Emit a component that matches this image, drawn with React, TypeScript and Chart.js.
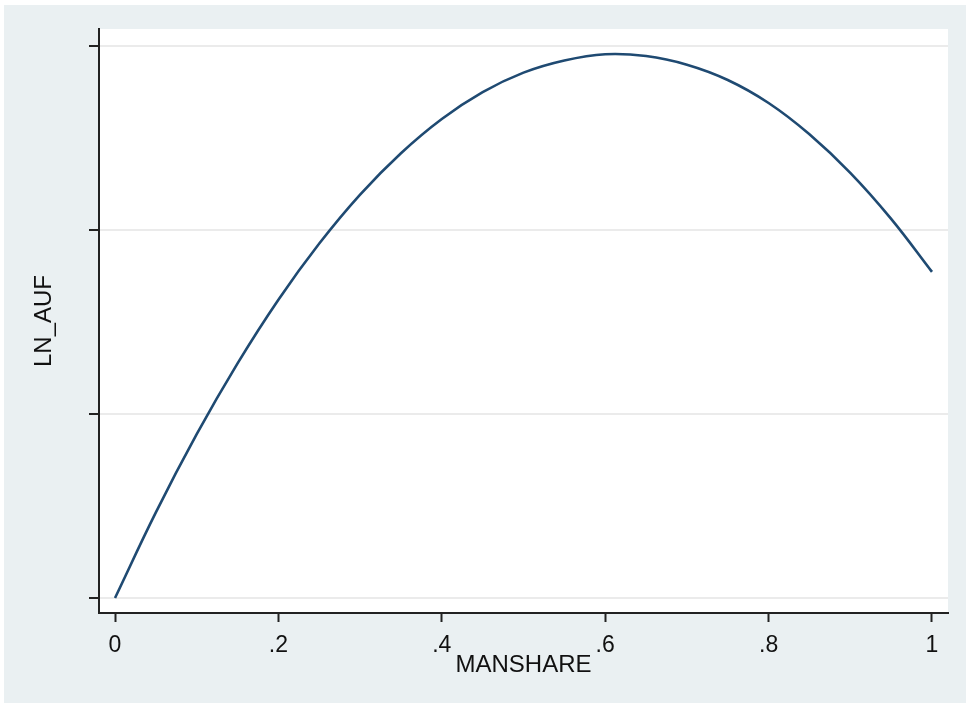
import React, { useEffect, useRef } from "react";
import { Chart, registerables } from "chart.js";

Chart.register(...registerables);

// MANSHARE values (x) and fitted LN_AUF values (y, in grid-step units)
const manshare = [0, 0.05, 0.1, 0.15, 0.2, 0.25, 0.3, 0.35, 0.4, 0.45, 0.5, 0.55, 0.6, 0.65, 0.7, 0.75, 0.8, 0.85, 0.9, 0.95, 1.0];
const lnAuf = [0, 0.465, 0.89, 1.275, 1.621, 1.926, 2.192, 2.417, 2.603, 2.749, 2.855, 2.921, 2.955, 2.945, 2.898, 2.815, 2.69, 2.52, 2.31, 2.06, 1.772];

const xTickValues = [0, 0.2, 0.4, 0.6, 0.8, 1];
const xTickLabels = ["0", ".2", ".4", ".6", ".8", "1"];
const yTickValues = [0, 1, 2, 3];

const FONT = "'Liberation Sans', Arial, Helvetica, sans-serif";

const bgPlugin = {
  id: "stataBg",
  beforeDraw(chart: any) {
    const { ctx, chartArea } = chart;
    ctx.save();
    ctx.fillStyle = "#ffffff";
    ctx.fillRect(0, 0, chart.width, chart.height);
    ctx.fillStyle = "#EAF0F2";
    ctx.fillRect(4, 5, chart.width - 4, chart.height - 5);
    ctx.fillStyle = "#ffffff";
    ctx.fillRect(chartArea.left, chartArea.top, chartArea.right - chartArea.left, chartArea.bottom - chartArea.top);
    ctx.restore();
  },
};

export default function App() {
  const ref = useRef<HTMLCanvasElement | null>(null);
  useEffect(() => {
    if (!ref.current) return;
    const chart = new Chart(ref.current, {
      type: "line",
      data: {
        datasets: [
          {
            label: "LN_AUF",
            data: manshare.map((x, i) => ({ x, y: lnAuf[i] })),
            borderColor: "#1F4A72",
            borderWidth: 2.6,
            pointRadius: 0,
            tension: 0.4,
            fill: false,
          },
        ],
      },
      options: {
        responsive: false,
        animation: false,
        maintainAspectRatio: false,
        layout: { padding: { left: 0, top: 29, right: 18, bottom: 0 } },
        plugins: { legend: { display: false }, tooltip: { enabled: false } },
        scales: {
          x: {
            type: "linear",
            min: -0.0196,
            max: 1.0196,
            afterBuildTicks: (scale: any) => {
              scale.ticks = xTickValues.map((v) => ({ value: v }));
            },
            afterFit: (scale: any) => {
              scale.height = 90;
            },
            ticks: {
              autoSkip: false,
              maxRotation: 0,
              padding: 10,
              color: "#111",
              font: { family: FONT, size: 23 },
              callback: (v: any) => {
                const i = xTickValues.findIndex((t) => Math.abs(t - Number(v)) < 1e-6);
                return i >= 0 ? xTickLabels[i] : "";
              },
            },
            grid: {
              drawOnChartArea: false,
              drawTicks: true,
              tickLength: 9,
              tickColor: "#222",
              tickWidth: 2,
            },
            border: { display: true, color: "#222", width: 2 },
            title: {
              display: true,
              text: "MANSHARE",
              color: "#111",
              font: { family: FONT, size: 24 },
              padding: { top: 0, bottom: 23 },
            },
          },
          y: {
            type: "linear",
            min: -0.0815,
            max: 3.092,
            afterBuildTicks: (scale: any) => {
              scale.ticks = yTickValues.map((v) => ({ value: v }));
            },
            afterFit: (scale: any) => {
              scale.width = 99;
            },
            ticks: { display: false },
            grid: {
              drawOnChartArea: true,
              color: "#EBEBEB",
              lineWidth: 2,
              drawTicks: true,
              tickLength: 10,
              tickColor: "#222",
              tickWidth: 2,
            },
            border: { display: true, color: "#222", width: 2 },
            title: {
              display: true,
              text: "LN_AUF",
              color: "#111",
              font: { family: FONT, size: 24 },
              padding: { top: 30, bottom: 0 },
            },
          },
        },
      },
      plugins: [bgPlugin],
    } as any);
    return () => chart.destroy();
  }, []);
  return (
    <canvas
      ref={ref}
      width={966}
      height={703}
      style={{ position: "fixed", left: 0, top: 0, width: 966, height: 703 }}
    />
  );
}
